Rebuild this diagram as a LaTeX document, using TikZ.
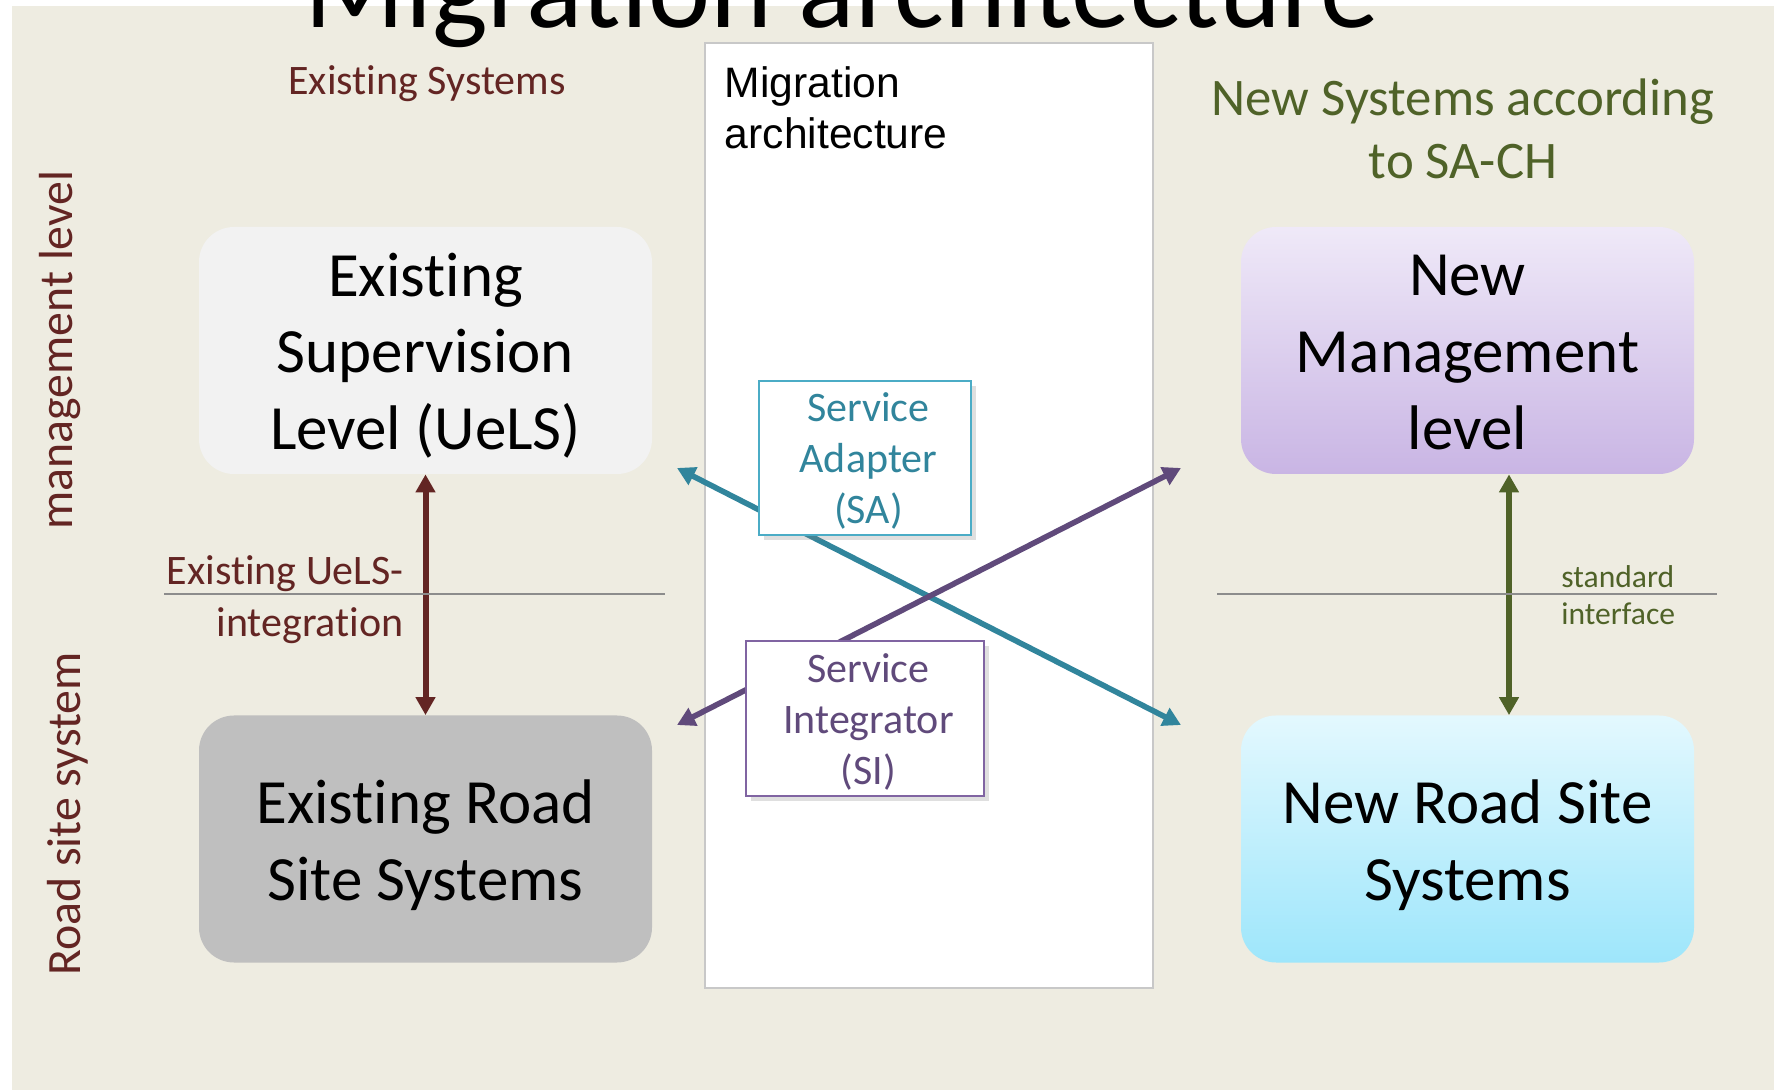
\documentclass[tikz,border=0pt]{standalone}
\usepackage{fontspec}
\setmainfont{Carlito}[Ligatures=NoCommon]
\newfontfamily\arialfont{Liberation Sans}
\usetikzlibrary{calc,positioning,shapes,shadows,arrows.meta}
\definecolor{bgtan}{HTML}{EEECE1}
\definecolor{dkred}{HTML}{632523}
\definecolor{olive}{HTML}{4F6228}
\definecolor{sateal}{HTML}{31859C}
\definecolor{saedge}{HTML}{4BACC6}
\definecolor{sipurple}{HTML}{604A7B}
\definecolor{siedge}{HTML}{8064A2}
\definecolor{divgray}{HTML}{8C8C8C}
\definecolor{migedge}{HTML}{C8C8C8}
\definecolor{uelsfill}{HTML}{F2F2F2}
\definecolor{rsgray}{HTML}{BFBFBF}
\definecolor{mgtop}{HTML}{EFE9F8}
\definecolor{mgbot}{HTML}{C9B5E4}
\definecolor{cytop}{HTML}{E3F8FE}
\definecolor{cybot}{HTML}{9EE6FB}

\begin{document}
\begin{tikzpicture}[x=0.5pt, y=-0.5pt,
  lbl/.style={inner sep=0pt, font=\fontsize{21}{26}\selectfont},
  dbl/.style={line width=2.8pt, {Triangle[length=9pt,width=9.5pt]}-{Triangle[length=9pt,width=9.5pt]}},
  divider/.style={divgray, line width=1pt}]
\tikzstyle{sys}=[rounded corners=17.5pt, minimum width=226.5pt, minimum height=123.5pt, inner sep=0pt]
\tikzstyle{systxt}=[inner sep=0pt, align=center, font=\fontsize{31.5}{38.3}\selectfont]
\tikzstyle{svc}=[draw, line width=1pt, fill=white, inner sep=0pt, drop shadow={shadow xshift=2.5pt, shadow yshift=-2.5pt, opacity=0.25}]
\tikzstyle{svctxt}=[inner sep=0pt, align=center, font=\fontsize{21}{25.5}\selectfont]
\useasboundingbox (0,0) rectangle (1774,1090);
\fill[bgtan] (12,6) rectangle (1774,1090);
\node[anchor=base, inner sep=0pt, font=\fontsize{58.9}{70}\selectfont] (title) at (842,28) {Migration architecture};

% middle column
\node[draw=migedge, line width=1pt, fill=white, minimum width=224pt, minimum height=472.5pt, inner sep=0pt] (mig) at (929,515.5) {};
\node[anchor=north west, inner sep=0pt, align=left, font=\arialfont\fontsize{21.3}{25.5}\selectfont] (migtxt) at ($(mig.north west)+(20.5,24)$) {Migration\\architecture};

% systems
\node[sys, fill=uelsfill] (els) at (425.5,350.5) {};
\node[sys, top color=mgtop, bottom color=mgbot] (nml) at (1467.5,350.5) {};
\node[sys, fill=rsgray] (ers) at (425.5,839) {};
\node[sys, top color=cytop, bottom color=cybot] (nrs) at (1467.5,839) {};
\node[systxt] (els-t) at ($(els)+(0,5)$) {Existing\\Supervision\\Level (UeLS)};
\node[systxt] (nml-t) at ($(nml)+(0,2)$) {New\\Management\\level};
\node[systxt] (ers-t) at ($(ers)+(0,6)$) {Existing Road\\Site Systems};
\node[systxt] (nrs-t) at ($(nrs)+(0,6)$) {New Road Site\\Systems};

\draw[dbl, line width=3pt, dkred] (els.south) -- (ers.north);
\draw[dbl, line width=3pt, olive] ($(nml.south)+(41.5,0)$) -- ($(nrs.north)+(41.5,0)$);
\foreach \xa/\xb in {164/665, 1217/1717}{
\draw[divider] (\xa,594) -- (\xb,594);
}

% labels
\node[lbl, text=dkred, anchor=base] (exsys) at (427,95) {Existing Systems};
\node[lbl, text=olive, anchor=north, align=center, font=\fontsize{26.4}{31.5}\selectfont] (newsys) at (1463,78) {New Systems according\\to SA-CH};
\node[lbl, text=dkred, anchor=north east, align=right] (integ) at (404,555) {Existing UeLS-\\integration};
\node[lbl, text=olive, anchor=north west, align=left, font=\fontsize{15.8}{18.5}\selectfont] (stdif) at (1561,565) {standard\\interface};
\node[lbl, text=dkred, rotate=90, anchor=base, font=\fontsize{23.9}{28}\selectfont] (mgmt) at (72,350) {management level};
\node[lbl, text=dkred, rotate=90, anchor=base, font=\fontsize{23.9}{28}\selectfont] (road) at (80,814) {Road site system};

% adapter and integrator
\coordinate (ta) at (677,468);
\coordinate (tb) at (1181,725);
\coordinate (pa) at (677,725);
\coordinate (pb) at (1181,468);
\foreach \s/\t/\c in {ta/tb/sateal, pa/pb/sipurple}{
\draw[dbl, \c] (\s) -- (\t);
}
\node[svc, draw=saedge, minimum width=106pt, minimum height=77pt] (sa) at (865,458) {};
\node[svc, draw=siedge, minimum width=119pt, minimum height=77.5pt] (si) at (865,718.5) {};
\node[svctxt, text=sateal] (sa-t) at ($(sa)+(3.4,3.4)$) {Service\\Adapter\\(SA)};
\node[svctxt, text=sipurple] (si-t) at ($(si)+(3.4,3)$) {Service\\Integrator\\(SI)};
\end{tikzpicture}
\end{document}
